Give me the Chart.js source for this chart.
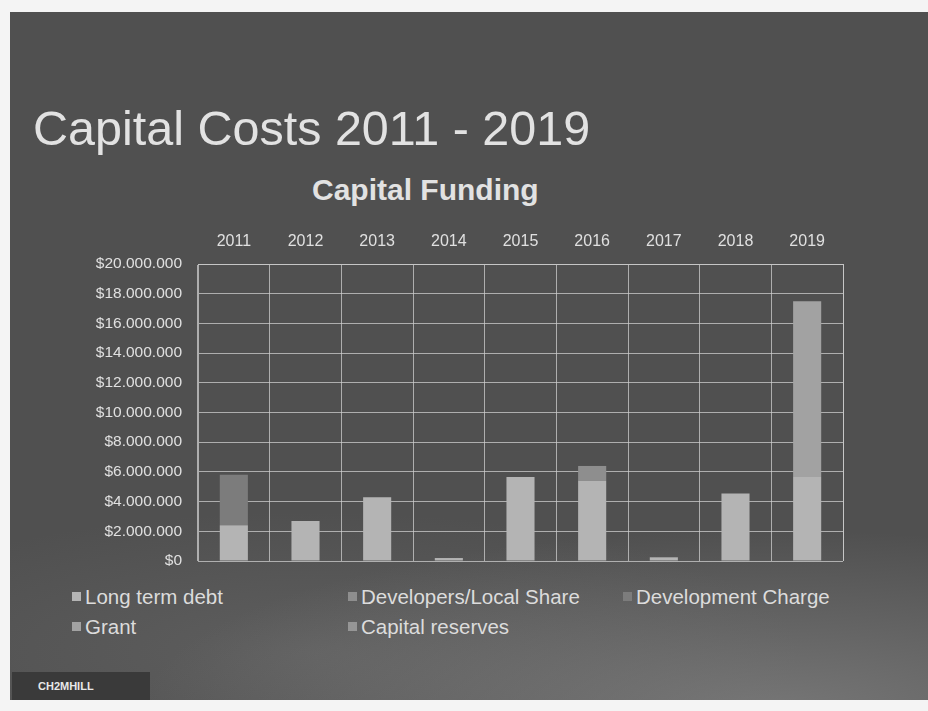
<!DOCTYPE html>
<html>
<head>
<meta charset="utf-8">
<script src="https://cdn.jsdelivr.net/npm/chart.js@4.4.1/dist/chart.umd.min.js"></script>
<style>
  html, body { margin: 0; padding: 0; background: #f4f4f4; }
  #slide {
    position: absolute; left: 10px; top: 12px; width: 918px; height: 688px;
    overflow: hidden;
    background:
      radial-gradient(ellipse 900px 260px at 760px 700px, rgba(150,150,150,0.55), rgba(150,150,150,0) 70%),
      radial-gradient(ellipse 700px 200px at 300px 640px, rgba(120,120,120,0.35), rgba(120,120,120,0) 70%),
      #505050;
    font-family: "Liberation Sans", Arial, sans-serif;
  }
  #title {
    position: absolute; left: 23px; top: 88px; margin: 0;
    font-size: 48.5px; font-weight: normal; color: #e2e2e2;
  }
  #subtitle {
    position: absolute; left: 302px; top: 161px;
    font-size: 30px; font-weight: bold; color: #e2e2e2;
  }
  #wrap { position: absolute; left: 80px; top: 212px; width: 770px; height: 346px; }
  #legend {
    position: absolute; left: 0; top: 573px; width: 918px; height: 60px;
    color: #dcdcdc; font-size: 20.5px;
  }
  #legend span { position: absolute; white-space: nowrap; }
  #legend i { display: inline-block; width: 9px; height: 9px; margin-right: 4px; vertical-align: 3px; }
  #logo {
    position: absolute; left: 2px; bottom: 0; width: 138px; height: 28px;
    background: #3a3a3a; color: #e8e8e8; font-size: 11px; font-weight: bold;
    line-height: 28px; padding-left: 26px; box-sizing: border-box;
  }
</style>
</head>
<body>
<div id="slide">
  <h1 id="title">Capital Costs 2011 - 2019</h1>
  <div id="subtitle">Capital Funding</div>
  <div id="wrap"><canvas id="chart"></canvas></div>
  <div id="legend"></div>
  <div id="logo">CH2MHILL</div>
</div>
<script>
const years = ['2011', '2012', '2013', '2014', '2015', '2016', '2017', '2018', '2019'];

const longTermDebt      = [2400000, 2700000, 4300000, 200000, 5650000, 5400000, 250000, 4550000, 5650000];
const developersShare   = [0, 0, 0, 0, 0, 1000000, 0, 0, 0];
const developmentCharge = [3400000, 0, 0, 0, 0, 0, 0, 0, 0];
const grant             = [0, 0, 0, 0, 0, 0, 0, 0, 11850000];
const capitalReserves   = [0, 0, 0, 0, 0, 0, 0, 0, 0];

const yTicks = [0, 2000000, 4000000, 6000000, 8000000, 10000000, 12000000, 14000000, 16000000, 18000000, 20000000];

const series = [
  { label: 'Long term debt', data: longTermDebt, color: '#b4b4b4' },
  { label: 'Developers/Local Share', data: developersShare, color: '#8e8e8e' },
  { label: 'Development Charge', data: developmentCharge, color: '#7c7c7c' },
  { label: 'Grant', data: grant, color: '#a2a2a2' },
  { label: 'Capital reserves', data: capitalReserves, color: '#969696' },
];

function money(v) {
  if (v === 0) return '$0';
  return '$' + String(v).replace(/\B(?=(\d{3})+(?!\d))/g, '.');
}

const gridColor = 'rgba(205, 205, 205, 0.75)';

const ctx = document.getElementById('chart').getContext('2d');
const chart = new Chart(ctx, {
  type: 'bar',
  data: {
    labels: years,
    datasets: series.map(s => ({
      label: s.label,
      data: s.data,
      backgroundColor: s.color,
      borderWidth: 0,
      categoryPercentage: 0.8,
      barPercentage: 0.49,
    }))
  },
  options: {
    responsive: true,
    maintainAspectRatio: false,
    animation: false,
    layout: { padding: { left: 0, right: 17, top: 0, bottom: 9 } },
    plugins: {
      legend: { display: false },
      tooltip: { enabled: false },
      title: { display: false }
    },
    scales: {
      x: {
        position: 'top',
        stacked: true,
        afterFit: s => { s.height = 40; s.paddingLeft = 0; s.paddingRight = 0; },
        ticks: {
          color: '#e0e0e0',
          font: { family: 'Liberation Sans', size: 16 },
          padding: 13
        },
        grid: { color: gridColor, drawTicks: false, offset: true },
        border: { color: gridColor }
      },
      y: {
        stacked: true,
        min: 0,
        max: 20000000,
        afterFit: s => { s.width = 108; s.paddingTop = 0; s.paddingBottom = 0; },
        afterBuildTicks: s => { s.ticks = yTicks.map(v => ({ value: v })); },
        ticks: {
          color: '#e0e0e0',
          font: { family: 'Liberation Sans', size: 15.5 },
          padding: 16,
          callback: v => money(v)
        },
        grid: { color: gridColor, drawTicks: false },
        border: { color: gridColor }
      }
    }
  },
  plugins: [{
    id: 'rightBorder',
    afterDraw(c) {
      const a = c.chartArea, g = c.ctx;
      g.save();
      g.strokeStyle = gridColor;
      g.lineWidth = 1;
      g.beginPath();
      g.moveTo(a.right + 0.5, a.top);
      g.lineTo(a.right + 0.5, a.bottom);
      g.stroke();
      g.restore();
    }
  }]
});

// legend laid out in three columns like the slide
const legendPos = [
  [62, 0], [338, 0], [613, 0],
  [62, 30], [338, 30]
];
const legend = document.getElementById('legend');
series.forEach((s, i) => {
  const el = document.createElement('span');
  el.style.left = legendPos[i][0] + 'px';
  el.style.top = legendPos[i][1] + 'px';
  el.innerHTML = '<i style="background:' + s.color + '"></i>' + s.label;
  legend.appendChild(el);
});
</script>
</body>
</html>
